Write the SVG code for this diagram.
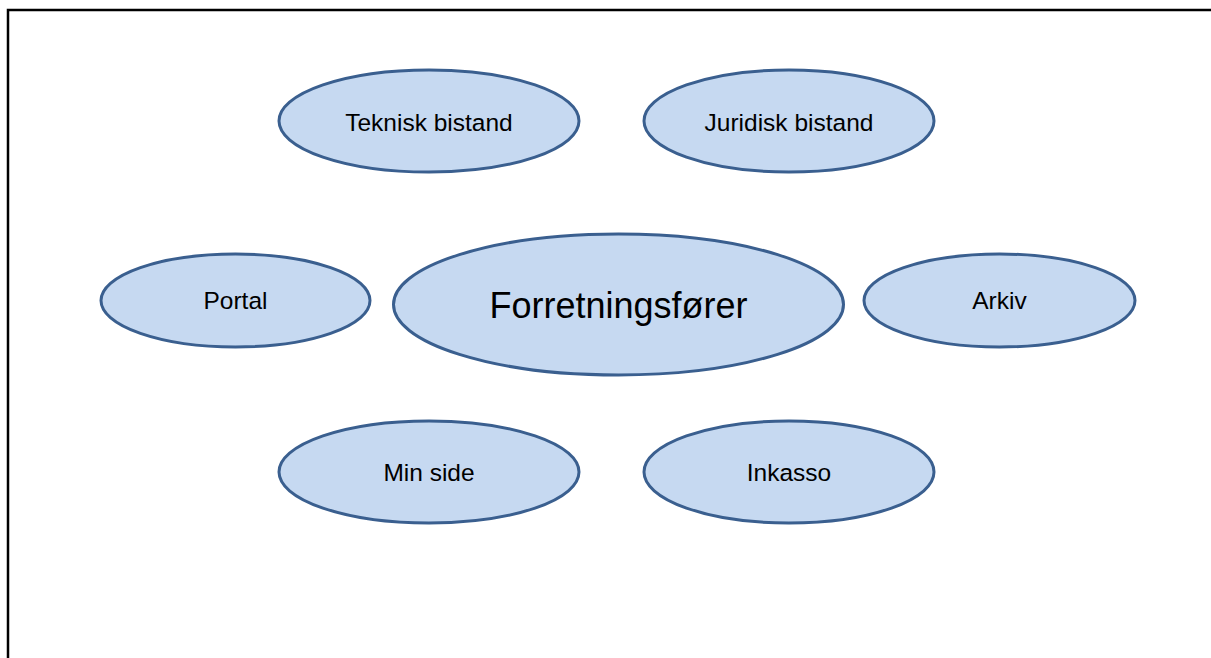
<svg xmlns="http://www.w3.org/2000/svg" width="1211" height="658" viewBox="0 0 1211 658">
<style>
.n ellipse{fill:#C6D9F1;stroke:#3A5F8F;stroke-width:3}
.n text{font-family:"Liberation Sans",Arial,sans-serif;font-size:24.5px;fill:#000;text-anchor:middle}
</style>
<rect x="0" y="0" width="1211" height="658" fill="#fff"/>
<path d="M8,659 V10 H1212" fill="none" stroke="#000" stroke-width="2.5"/>
<g id="connectors"></g>
<g id="teknisk" class="n"><ellipse cx="429" cy="121" rx="150" ry="51"/><text x="429" y="131">Teknisk bistand</text></g>
<g id="juridisk" class="n"><ellipse cx="789" cy="121" rx="145" ry="51"/><text x="789" y="131">Juridisk bistand</text></g>
<g id="portal" class="n"><ellipse cx="235.5" cy="300.5" rx="134.5" ry="46.5"/><text x="235.5" y="309">Portal</text></g>
<g id="forretningsforer" class="n"><ellipse cx="618.5" cy="304.5" rx="225" ry="70.5"/><text x="618.5" y="318" style="font-size:36px">Forretningsfører</text></g>
<g id="arkiv" class="n"><ellipse cx="999.5" cy="300.5" rx="135.5" ry="46.5"/><text x="999.5" y="309">Arkiv</text></g>
<g id="minside" class="n"><ellipse cx="429" cy="472" rx="150" ry="51"/><text x="429" y="481">Min side</text></g>
<g id="inkasso" class="n"><ellipse cx="789" cy="472" rx="145" ry="51"/><text x="789" y="481">Inkasso</text></g>
</svg>
